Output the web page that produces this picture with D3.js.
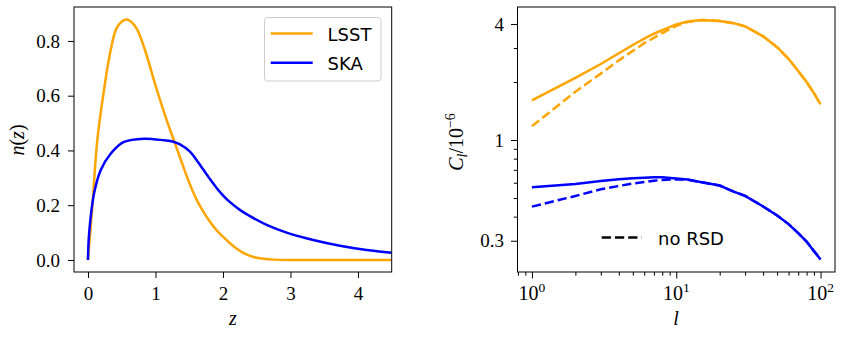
<!DOCTYPE html>
<html lang="en">
<head>
  <meta charset="UTF-8">
  <title>n(z) and C_l</title>
  <script src="https://d3js.org/d3.v7.min.js"></script>
  <style>
    body { margin: 0; background: #fff; }
    .math { font-family: "Liberation Serif", serif; font-size: 20px; }
    .leg { font-family: "DejaVu Sans", sans-serif; font-size: 18px; }
  </style>
</head>
<body>
<svg id="chart" width="843" height="337"></svg>
<script>
  // left panel: redshift distributions
  const zLSST = [0, 0.064, 0.138, 0.237, 0.336, 0.434, 0.573, 0.706, 0.83, 1.0, 1.166, 1.289, 1.412, 1.5, 1.6, 1.7, 1.8, 1.9, 2.0, 2.1, 2.2, 2.3, 2.4, 2.5, 2.6, 2.75, 3.0, 3.5, 4.0, 4.5];
  const nLSST = [0, 0.194, 0.437, 0.62, 0.766, 0.851, 0.878, 0.851, 0.778, 0.638, 0.511, 0.426, 0.341, 0.283, 0.225, 0.18, 0.142, 0.11, 0.085, 0.062, 0.042, 0.026, 0.015, 0.008, 0.004, 0.0012, 0, 0, 0, 0];
  const zSKA = [0, 0.01, 0.03, 0.089, 0.188, 0.336, 0.533, 0.83, 1.126, 1.264, 1.363, 1.511, 1.6, 1.7, 1.8, 1.9, 2.0, 2.1, 2.25, 2.4, 2.647, 2.943, 3.338, 3.733, 4.128, 4.5];
  const nSKA = [0, 0.072, 0.133, 0.242, 0.328, 0.388, 0.431, 0.443, 0.437, 0.432, 0.422, 0.396, 0.368, 0.333, 0.298, 0.265, 0.236, 0.212, 0.183, 0.16, 0.128, 0.1, 0.073, 0.052, 0.0365, 0.026];
  const zTicks = [0, 1, 2, 3, 4];
  const nTicks = [0, 0.2, 0.4, 0.6, 0.8];

  // right panel: angular power spectra
  const ell = [1, 2, 3, 4, 5, 6, 7, 8, 10, 12, 15, 20, 25, 30, 40, 50, 60, 70, 80, 90, 100];
  const clLSST = [1.607, 2.10, 2.48, 2.82, 3.11, 3.36, 3.56, 3.72, 3.98, 4.12, 4.19, 4.15, 4.04, 3.89, 3.45, 3.03, 2.64, 2.28, 2.0, 1.75, 1.53];
  const clLSSTnoRSD = [1.18, 1.78, 2.21, 2.59, 2.90, 3.18, 3.39, 3.59, 3.91, 4.10, 4.19, 4.15, 4.04, 3.89, 3.45, 3.03, 2.64, 2.28, 2.0, 1.75, 1.53];
  const clSKA = [0.568, 0.591, 0.612, 0.626, 0.633, 0.637, 0.640, 0.640, 0.632, 0.623, 0.603, 0.58, 0.54, 0.513, 0.452, 0.406, 0.366, 0.329, 0.297, 0.265, 0.24];
  const clSKAnoRSD = [0.451, 0.512, 0.555, 0.577, 0.595, 0.605, 0.615, 0.62, 0.625, 0.622, 0.603, 0.58, 0.54, 0.513, 0.452, 0.406, 0.366, 0.329, 0.297, 0.265, 0.24];
  const lMajor = [1, 10, 100];
  const lMinor = [0.8, 0.9, 2, 3, 4, 5, 6, 7, 8, 9, 20, 30, 40, 50, 60, 70, 80, 90];
  const clMajor = [4, 1, 0.3];
  const clMinor = [0.4, 0.5, 0.6, 0.7, 0.8, 0.9, 2, 3];

  const ORANGE = "#ffa500", BLUE = "#0000ff";
  const SERIF = "'Liberation Serif', serif";
  const svg = d3.select("#chart");

  // axis helper: strip domain path, restyle tick text and lines
  function styleAxis(g) {
    g.attr("font-family", SERIF).attr("font-size", 19);
    g.select(".domain").remove();
    g.selectAll(".tick line").attr("stroke", "#000").attr("stroke-width", 1);
    g.selectAll(".tick text").attr("fill", "#000").style("font-family", SERIF).style("font-size", "19px");
  }

  // ---------- left panel ----------
  const L = { x0: 74, x1: 391.7, y0: 7, y1: 272 };
  const xL = d3.scaleLinear().domain([-0.207, 4.5]).range([L.x0, L.x1]);
  const yL = d3.scaleLinear().domain([-0.044, 0.924]).range([L.y1, L.y0]);

  const gL = svg.append("g");
  gL.append("g").attr("transform", `translate(0,${L.y1})`)
    .call(d3.axisBottom(xL).tickValues(zTicks).tickFormat(d3.format("d")).tickSize(6).tickPadding(8.5))
    .call(styleAxis);
  gL.append("g").attr("transform", `translate(${L.x0},0)`)
    .call(d3.axisLeft(yL).tickValues(nTicks).tickFormat(d3.format(".1f")).tickSize(6).tickPadding(8))
    .call(styleAxis);

  svg.append("clipPath").attr("id", "clipL").append("rect")
    .attr("x", L.x0).attr("y", L.y0).attr("width", L.x1 - L.x0).attr("height", L.y1 - L.y0);

  const lineL = d3.line().x(d => xL(d[0])).y(d => yL(d[1])).curve(d3.curveCatmullRom.alpha(0.5));
  gL.append("path").datum(d3.zip(zLSST, nLSST)).attr("d", lineL)
    .attr("fill", "none").attr("stroke", ORANGE).attr("stroke-width", 2.5).attr("clip-path", "url(#clipL)");
  gL.append("path").datum(d3.zip(zSKA, nSKA)).attr("d", lineL)
    .attr("fill", "none").attr("stroke", BLUE).attr("stroke-width", 2.5).attr("clip-path", "url(#clipL)");

  gL.append("rect").attr("x", L.x0).attr("y", L.y0).attr("width", L.x1 - L.x0).attr("height", L.y1 - L.y0)
    .attr("fill", "none").attr("stroke", "#000").attr("stroke-width", 1);

  // legend
  gL.append("rect").attr("x", 264.5).attr("y", 17.5).attr("width", 116.5).attr("height", 63.5).attr("rx", 3)
    .attr("fill", "#fff").attr("fill-opacity", 0.8).attr("stroke", "#cccccc");
  [["LSST", ORANGE, 33.5], ["SKA", BLUE, 62.7]].forEach(([name, c, y]) => {
    gL.append("line").attr("x1", 270.7).attr("x2", 312.7).attr("y1", y).attr("y2", y)
      .attr("stroke", c).attr("stroke-width", 2.5);
    gL.append("text").attr("class", "leg").attr("x", 327.5).attr("y", y + 7).text(name);
  });

  // axis labels
  gL.append("text").attr("class", "math").attr("text-anchor", "middle")
    .attr("transform", "translate(24,140) rotate(-90)")
    .call(t => {
      t.append("tspan").attr("font-style", "italic").text("n");
      t.append("tspan").text("(");
      t.append("tspan").attr("font-style", "italic").text("z");
      t.append("tspan").text(")");
    });
  gL.append("text").attr("class", "math").attr("text-anchor", "middle").attr("font-style", "italic")
    .attr("x", 233).attr("y", 325).text("z");

  // ---------- right panel ----------
  const R = { x0: 517.5, x1: 835, y0: 7, y1: 272 };
  const xR = d3.scaleLog().domain([Math.pow(10, -0.1), Math.pow(10, 2.1)]).range([R.x0, R.x1]);
  const yR = d3.scaleLog().domain([0.2065, 4.9]).range([R.y1, R.y0]);

  const gR = svg.append("g");
  gR.append("g").attr("transform", `translate(0,${R.y1})`)
    .call(d3.axisBottom(xR).tickValues(lMajor).tickFormat(() => "").tickSize(6.5))
    .call(styleAxis);
  gR.append("g").attr("transform", `translate(0,${R.y1})`)
    .call(d3.axisBottom(xR).tickValues(lMinor).tickFormat(() => "").tickSize(3.7))
    .call(styleAxis);
  gR.append("g").attr("transform", `translate(${R.x0},0)`)
    .call(d3.axisLeft(yR).tickValues(clMajor).tickFormat(d => String(d)).tickSize(6.5).tickPadding(7))
    .call(styleAxis);
  gR.append("g").attr("transform", `translate(${R.x0},0)`)
    .call(d3.axisLeft(yR).tickValues(clMinor).tickFormat(() => "").tickSize(3.7))
    .call(styleAxis);

  // 10^k labels
  lMajor.forEach(v => {
    const t = gR.append("text").attr("class", "math").attr("text-anchor", "middle")
      .attr("x", xR(v)).attr("y", 300).attr("font-size", 19);
    t.append("tspan").text("10");
    t.append("tspan").attr("dy", -8).attr("font-size", 13.5).text(String(Math.round(Math.log10(v))));
  });

  svg.append("clipPath").attr("id", "clipR").append("rect")
    .attr("x", R.x0).attr("y", R.y0).attr("width", R.x1 - R.x0).attr("height", R.y1 - R.y0);

  const lineR = d3.line().x(d => xR(d[0])).y(d => yR(d[1]));
  [[clLSST, ORANGE, null], [clLSSTnoRSD, ORANGE, "9.25,4"],
   [clSKA, BLUE, null], [clSKAnoRSD, BLUE, "9.25,4"]].forEach(([vals, c, dash]) => {
    gR.append("path").datum(d3.zip(ell, vals)).attr("d", lineR)
      .attr("fill", "none").attr("stroke", c).attr("stroke-width", 2.5)
      .attr("stroke-dasharray", dash).attr("clip-path", "url(#clipR)");
  });

  gR.append("rect").attr("x", R.x0).attr("y", R.y0).attr("width", R.x1 - R.x0).attr("height", R.y1 - R.y0)
    .attr("fill", "none").attr("stroke", "#000").attr("stroke-width", 1);

  // legend "no RSD"
  gR.append("line").attr("x1", 601.7).attr("x2", 641.7).attr("y1", 237.5).attr("y2", 237.5)
    .attr("stroke", "#000").attr("stroke-width", 2.5).attr("stroke-dasharray", "9.25,4");
  gR.append("text").attr("class", "leg").attr("font-size", 17.5).attr("x", 658).attr("y", 244.5).text("no RSD");

  // axis labels
  gR.append("text").attr("class", "math").attr("text-anchor", "middle")
    .attr("transform", "translate(463,142) rotate(-90)")
    .call(t => {
      t.append("tspan").attr("font-style", "italic").text("C");
      t.append("tspan").attr("font-style", "italic").attr("font-size", 14).attr("dy", 4).text("l");
      t.append("tspan").attr("dy", -4).text("/10");
      t.append("tspan").attr("font-size", 14).attr("dy", -8).text("\u22126");
    });
  gR.append("text").attr("class", "math").attr("text-anchor", "middle").attr("font-style", "italic")
    .attr("x", 676).attr("y", 325).text("l");
</script>
</body>
</html>
